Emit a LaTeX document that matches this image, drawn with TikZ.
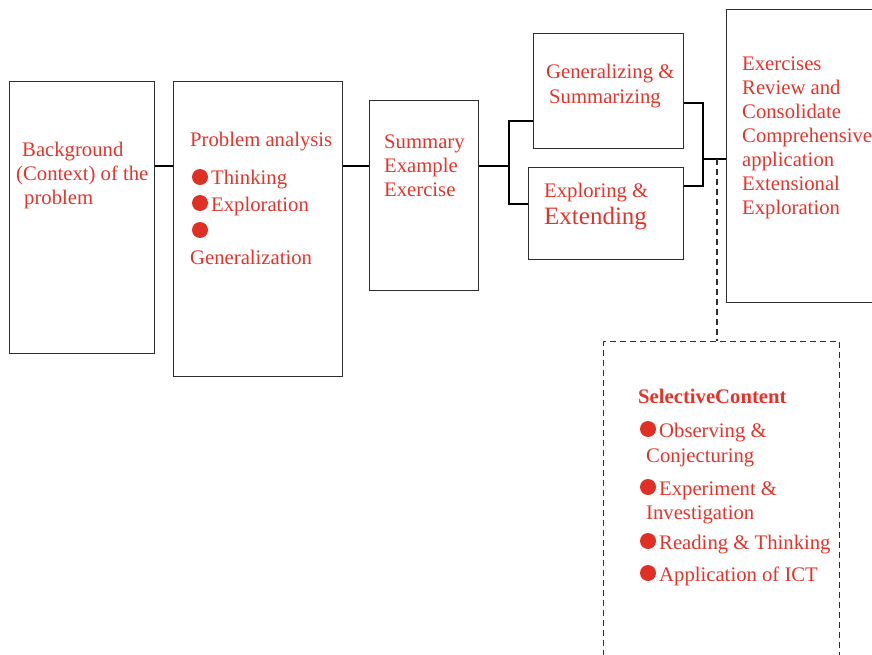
\documentclass[tikz,border=0pt]{standalone}
\usepackage{fontspec}
\setmainfont{Liberation Serif}
\definecolor{txtred}{RGB}{228,52,42}
\definecolor{bulred}{RGB}{222,48,36}
\definecolor{edge}{RGB}{45,45,45}
\begin{document}
\begin{tikzpicture}[x=1pt,y=-1pt,
  box/.style={draw=edge, line width=1.4pt, rectangle, inner sep=0pt, anchor=north west},
  dbox/.style={box, dash pattern=on 6pt off 4pt},
  conn/.style={draw=black, line width=1.8pt},
  dconn/.style={draw=edge, line width=1.4pt, dash pattern=on 6pt off 4pt},
  txt/.style={text=txtred, font=\fontsize{20.7}{24}\selectfont, anchor=base west, inner sep=0pt, yshift=-1.2pt},
  btxt/.style={txt, font=\fontsize{20.7}{24}\selectfont\bfseries},
  bigtxt/.style={txt, font=\fontsize{25}{28}\selectfont},
  bul/.style={circle, fill=bulred, minimum size=16pt, inner sep=0pt}]
\useasboundingbox (0,0) rectangle (872,655);
\clip (0,0) rectangle (872,655);

% boxes
\node[box, minimum width=145pt, minimum height=272pt] (A) at (9,81) {};
\node[box, minimum width=169pt, minimum height=295pt] (B) at (173,81) {};
\node[box, minimum width=109pt, minimum height=190pt] (C) at (369,100) {};
\node[box, minimum width=150pt, minimum height=115pt] (D) at (533,33) {};
\node[box, minimum width=155pt, minimum height=92pt] (E) at (528,167) {};
\node[box, minimum width=200pt, minimum height=293pt] (F) at (726,9) {};
\node[dbox, minimum width=236pt, minimum height=350pt] (G) at (603,341) {};

% reference coordinates for connectors
\coordinate (r1) at (0,166);
\coordinate (sp) at (509,166);
\coordinate (rD) at (0,121);
\coordinate (rE) at (0,204);
\coordinate (oD) at (0,103);
\coordinate (oE) at (0,186);
\coordinate (jx) at (703,0);
\coordinate (rF) at (0,159);
\coordinate (dj) at (717,159);

\draw[conn] (A.east |- r1) -- (B.west |- r1);
\draw[conn] (B.east |- r1) -- (C.west |- r1);
\draw[conn] (C.east |- r1) -- (sp);
\draw[conn] (D.west |- rD) -| (sp) |- (E.west |- rE);
\draw[conn] (D.east |- oD) -| (jx |- rF) |- (E.east |- oE);
\draw[conn] (jx |- rF) -- (F.west |- rF);
\draw[dconn] (dj) -- (dj |- G.north);

% box A text
\node[txt] (a1) at (22,155) {Background};
\node[txt] (a2) at (16,179) {(Context) of the};
\node[txt] (a3) at (24,203) {problem};

% box B text
\node[txt] (b0) at (190,145) {Problem analysis};
\node[bul] (bb1) at (200,177) {};
\node[txt] (b1) at (211,183) {Thinking};
\node[bul] (bb2) at (200,203) {};
\node[txt] (b2) at (211,210) {Exploration};
\node[bul] (bb3) at (200,230) {};
\node[txt] (b3) at (190,263) {Generalization};

% box C text
\node[txt] (c1) at (384,147) {Summary};
\node[txt] (c2) at (384,171) {Example};
\node[txt] (c3) at (384,195) {Exercise};

% box D text
\node[txt] (d1) at (546,77) {Generalizing \&};
\node[txt] (d2) at (549,102) {Summarizing};

% box E text
\node[txt] (e1) at (544,196) {Exploring \&};
\node[bigtxt] (e2) at (544,223) {Extending};

% box F text
\node[txt] (f1) at (742,69) {Exercises};
\node[txt] (f2) at (742,93) {Review and};
\node[txt] (f3) at (742,117) {Consolidate};
\node[txt] (f4) at (742,141) {Comprehensive};
\node[txt] (f5) at (742,165) {application};
\node[txt] (f6) at (742,189) {Extensional};
\node[txt] (f7) at (742,213) {Exploration};

% box G text
\node[btxt] (g0) at (638,402) {SelectiveContent};
\node[bul] (gb1) at (648,429) {};
\node[txt] (g1) at (659,436) {Observing \&};
\node[txt] (g2) at (646,461) {Conjecturing};
\node[bul] (gb2) at (648,487) {};
\node[txt] (g3) at (659,494) {Experiment \&};
\node[txt] (g4) at (646,518) {Investigation};
\node[bul] (gb3) at (648,541) {};
\node[txt] (g5) at (659,548) {Reading \& Thinking};
\node[bul] (gb4) at (648,573) {};
\node[txt] (g6) at (659,580) {Application of ICT};
\end{tikzpicture}
\end{document}
